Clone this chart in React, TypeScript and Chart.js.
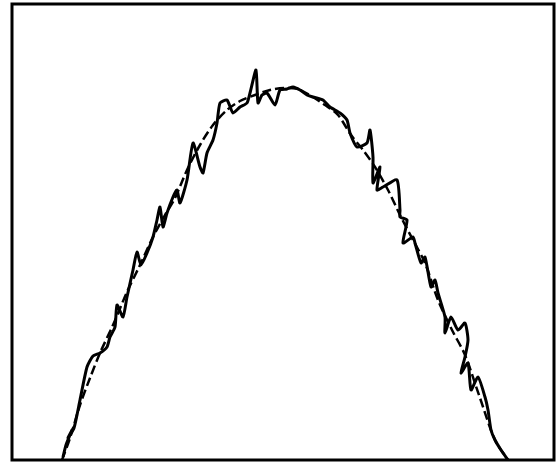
import React, { useEffect, useRef } from "react";
import { Chart, registerables } from "chart.js";

Chart.register(...registerables);

// Measured (noisy) profile: x channel, y counts
const measuredX = [51, 54, 60, 56, 62, 68, 75, 81, 88, 95, 98, 103, 105, 111, 115, 121, 125, 129, 135, 141, 145, 148, 151, 155, 161, 165, 168, 175, 181, 188, 191, 195, 201, 205, 208, 215, 221, 228, 235, 238, 244, 246, 250, 255, 263, 268, 275, 281, 288, 295, 301, 311, 318, 328, 335, 338, 345, 355, 358, 361, 361, 368, 365, 371, 385, 388, 388, 395, 391, 401, 403, 409, 413, 419, 423, 426, 433, 433, 439, 446, 453, 456, 453, 449, 456, 459, 466, 473, 476, 479, 483, 489, 496];
const measuredY = [3, 15, 30, 22, 32, 60, 93, 104, 107, 113, 123, 133, 155, 143, 163, 190, 208, 195, 207, 223, 240, 253, 233, 247, 263, 270, 257, 280, 317, 293, 287, 307, 320, 337, 357, 360, 347, 353, 357, 367, 390, 357, 365, 367, 355, 370, 371, 373, 370, 365, 363, 360, 353, 347, 340, 327, 313, 317, 330, 303, 277, 293, 270, 273, 280, 250, 243, 240, 217, 223, 217, 197, 203, 173, 180, 167, 143, 127, 143, 130, 137, 120, 103, 87, 97, 70, 83, 63, 50, 30, 20, 10, 0];

// Fitted (smooth) profile
const fitX = [50, 58, 68, 78, 88, 101, 115, 128, 141, 153, 163, 175, 188, 201, 215, 228, 243, 258, 273, 286, 299, 313, 326, 339, 351, 363, 376, 389, 401, 413, 426, 440, 453, 468, 483, 496];
const fitY = [0, 22, 55, 82, 107, 135, 168, 195, 223, 245, 262, 290, 315, 335, 350, 359, 365, 370, 372, 371, 364, 355, 345, 325, 310, 293, 270, 243, 220, 197, 160, 130, 105, 62, 20, 0];

const xMin = 0;
const xMax = 542;
const yMin = 0;
const yMax = 456;

const framePlugin = {
  id: "frame",
  afterDraw(chart: any) {
    const { ctx, chartArea } = chart;
    ctx.save();
    ctx.strokeStyle = "#000";
    ctx.lineWidth = 3;
    ctx.strokeRect(chartArea.left, chartArea.top, chartArea.right - chartArea.left, chartArea.bottom - chartArea.top);
    ctx.restore();
  },
};

export default function App() {
  const ref = useRef<HTMLCanvasElement | null>(null);
  useEffect(() => {
    if (!ref.current) return;
    const chart = new Chart(ref.current, {
      type: "scatter",
      data: {
        datasets: [
          {
            label: "fit",
            data: fitX.map((x, i) => ({ x, y: fitY[i] })),
            showLine: true,
            borderColor: "#000",
            borderWidth: 2.5,
            borderDash: [9, 4],
            pointRadius: 0,
            tension: 0.3,
          },
          {
            label: "measured",
            data: measuredX.map((x, i) => ({ x, y: measuredY[i] })),
            showLine: true,
            borderColor: "#000",
            borderWidth: 3,
            pointRadius: 0,
            tension: 0.2,
          },
        ],
      },
      options: {
        animation: false,
        responsive: false,
        devicePixelRatio: 1,
        layout: { padding: { left: 12, top: 4, right: 4, bottom: 3 } },
        plugins: { legend: { display: false }, tooltip: { enabled: false } },
        scales: {
          x: { type: "linear", min: xMin, max: xMax, display: false },
          y: { type: "linear", min: yMin, max: yMax, display: false },
        },
      },
      plugins: [framePlugin],
    });
    return () => chart.destroy();
  }, []);
  return (
    <div style={{ position: "absolute", left: 0, top: 0, width: 558, height: 463, background: "#fff" }}>
      <canvas ref={ref} width={558} height={463} style={{ display: "block" }} />
    </div>
  );
}
